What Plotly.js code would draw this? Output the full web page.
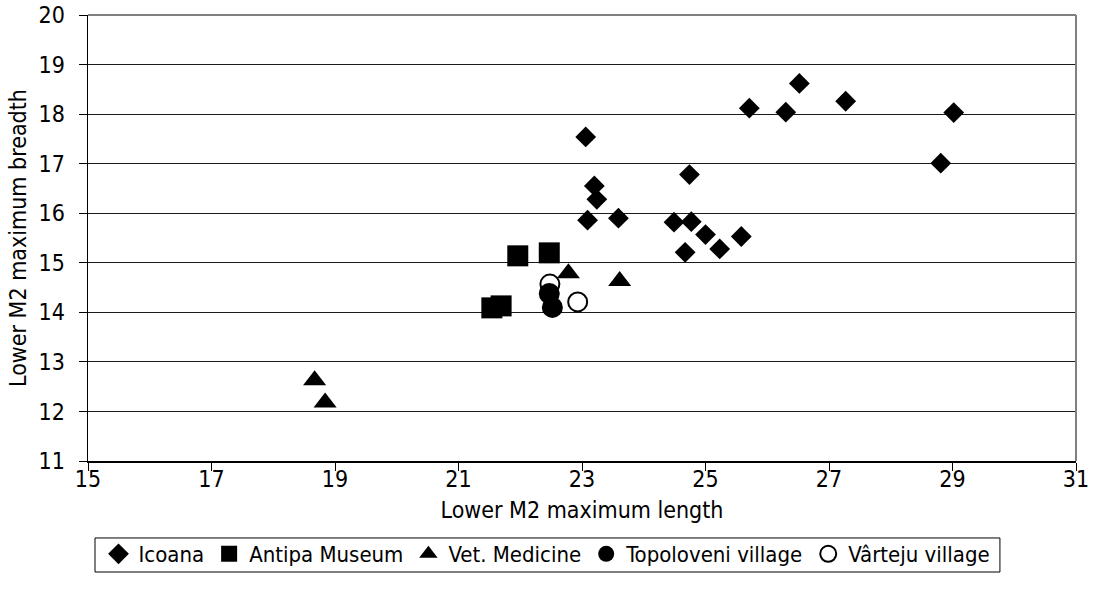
<!DOCTYPE html>
<html>
<head>
<meta charset="utf-8">
<script src="https://cdn.plot.ly/plotly-3.0.1.min.js"></script>
<style>html,body{margin:0;padding:0;background:#fff;}#chart{width:1094px;height:595px;}</style>
</head>
<body>
<div id="chart"></div>
<script>
// Icoana
const icoanaX = [23.06, 23.20, 23.24, 23.09, 23.59, 24.74, 24.49, 24.77, 25.00, 25.23, 24.67, 25.58, 25.71, 26.30, 26.52, 27.27, 29.02, 28.81];
const icoanaY = [17.54, 16.55, 16.28, 15.86, 15.90, 16.78, 15.82, 15.83, 15.57, 15.28, 15.21, 15.53, 18.12, 18.04, 18.62, 18.26, 18.03, 17.01];
// Antipa Museum
const antipaX = [21.96, 22.47, 21.54, 21.69];
const antipaY = [15.14, 15.20, 14.09, 14.13];
// Vet. Medicine
const vetX = [22.78, 23.61, 18.67, 18.84];
const vetY = [14.79, 14.63, 12.63, 12.18];
// Topoloveni village
const topoX = [22.47, 22.52];
const topoY = [14.38, 14.10];
// Vârteju village
const varX = [22.48, 22.93];
const varY = [14.57, 14.21];

const seriesNames = ["Icoana", "Antipa Museum", "Vet. Medicine", "Topoloveni village", "Vârteju village"];
const xTicks = [15, 17, 19, 21, 23, 25, 27, 29, 31];
const yTicks = [11, 12, 13, 14, 15, 16, 17, 18, 19, 20];

const FONT = "'DejaVu Sans Condensed', 'DejaVu Sans', sans-serif";
const FS = 23;

function tr(x, y, name, symbol, size, open) {
  return {
    type: "scatter", mode: "markers", x: x, y: y, name: name,
    marker: open
      ? {symbol: symbol, size: size, color: "#000", line: {color: "#000", width: 2}}
      : {symbol: symbol, size: size, color: "#000", line: {width: 0}},
    hoverinfo: "x+y+name"
  };
}

const data = [
  tr(icoanaX, icoanaY, seriesNames[0], "diamond", 16, false),
  tr(antipaX, antipaY, seriesNames[1], "square", 21, false),
  tr(vetX, vetY, seriesNames[2], "triangle-up", 20, false),
  tr(topoX, topoY, seriesNames[3], "circle", 21, false),
  tr(varX, varY, seriesNames[4], "circle-open", 19, true)
];

const layout = {
  width: 1094, height: 595,
  margin: {l: 88, r: 18, t: 15, b: 134, autoexpand: false},
  paper_bgcolor: "#fff", plot_bgcolor: "#fff",
  font: {family: FONT, size: FS, color: "#000"},
  showlegend: true,
  legend: {
    orientation: "h", xref: "container", yref: "container",
    x: 0.5, xanchor: "center", y: 0.1042, yanchor: "top",
    borderwidth: 0, bgcolor: "rgba(0,0,0,0)",
    font: {family: FONT, size: 22, color: "#000"},
    itemsizing: "trace", tracegroupgap: 0, itemclick: false
  },
  xaxis: {
    range: [15, 31], tickmode: "array", tickvals: xTicks, ticktext: xTicks.map(String),
    showgrid: false, zeroline: false, showline: true, linecolor: "#000", linewidth: 1.5,
    ticks: "outside", ticklen: 8, tickcolor: "#000", tickwidth: 1,
    ticklabelstandoff: -11,
    tickfont: {family: FONT, size: FS, color: "#000"},
    title: {text: "Lower M2 maximum length", font: {family: FONT, size: FS, color: "#000"}, standoff: 11}
  },
  yaxis: {
    range: [11, 20], tickmode: "array", tickvals: yTicks, ticktext: yTicks.map(String),
    showgrid: true, gridcolor: "#1a1a1a", gridwidth: 1, zeroline: false,
    showline: true, linecolor: "#000", linewidth: 1.5,
    ticks: "outside", ticklen: 8, tickcolor: "#000", tickwidth: 1,
    ticklabelstandoff: 9,
    tickfont: {family: FONT, size: FS, color: "#000"},
    title: {text: "Lower M2 maximum breadth", font: {family: FONT, size: FS, color: "#000"}, standoff: 5}
  },
  shapes: [
    {type: "line", xref: "paper", yref: "paper", x0: 0, x1: 1, y0: 1, y1: 1, line: {color: "#808080", width: 2}},
    {type: "line", xref: "paper", yref: "paper", x0: 1, x1: 1, y0: 0, y1: 1, line: {color: "#808080", width: 2}},
    // legend frame
    {type: "rect", xref: "paper", yref: "paper", x0: 0.00709, x1: 0.923, y0: -0.1726, y1: -0.2489, line: {color: "#000", width: 1}, fillcolor: "rgba(0,0,0,0)"}
  ]
};

Plotly.newPlot("chart", data, layout, {displayModeBar: false, staticPlot: true});
</script>
</body>
</html>
